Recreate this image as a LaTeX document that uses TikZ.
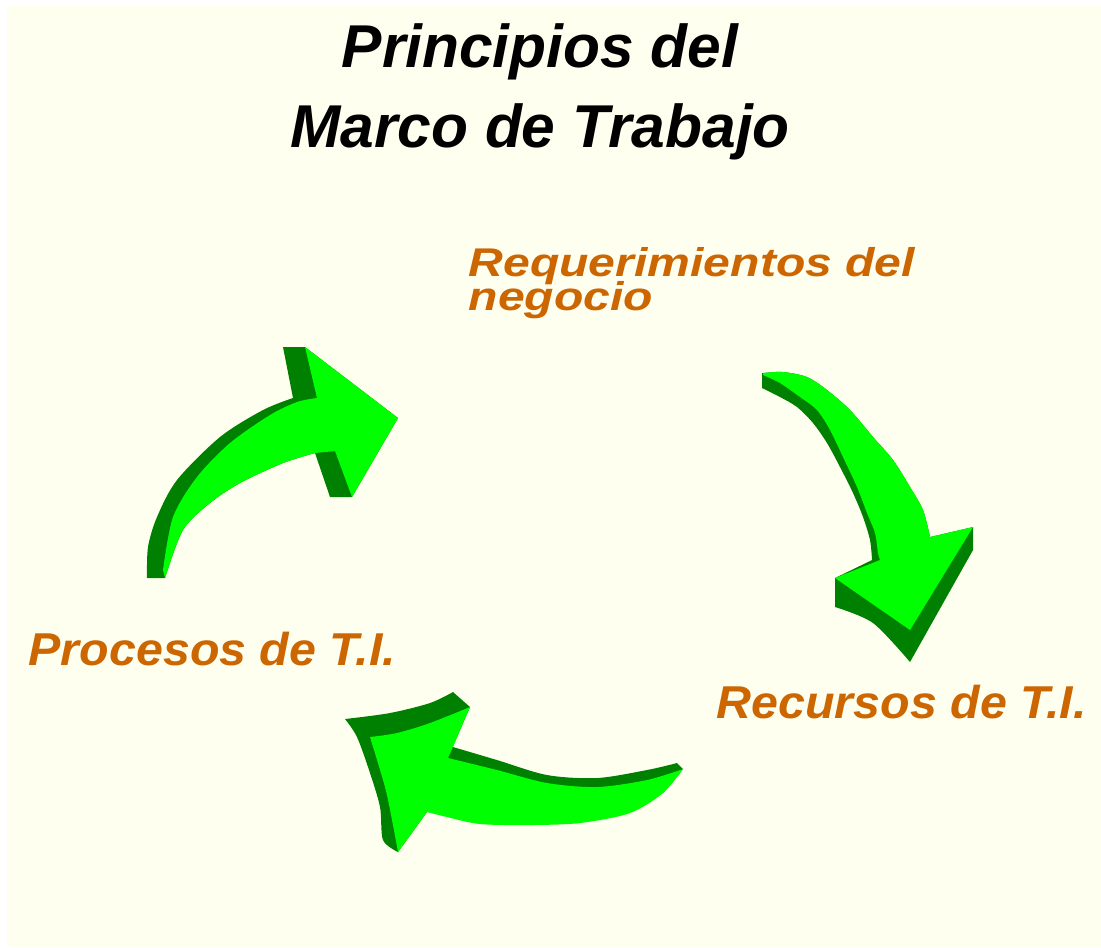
\documentclass[tikz,border=0pt]{standalone}
\usepackage{fontspec}
\setmainfont{Liberation Sans}
\newfontfamily\lblfont{Liberation Sans}[FakeStretch=1.05]
\newfontfamily\reqfont{Liberation Sans}[FakeStretch=1.2]
\usetikzlibrary{positioning}
\definecolor{Lime}{HTML}{00FF00}
\definecolor{Shade}{HTML}{008000}
\definecolor{Orange}{HTML}{CC6600}
\definecolor{Paper}{HTML}{FFFFF0}
\lineskiplimit=-100pt
\begin{document}
\begin{tikzpicture}
[x=0.01cm,y=-0.01cm,
face/.style={fill=Lime},
side/.style={fill=Shade},
ttl/.style={font=\fontsize{17.2}{22.5}\selectfont\bfseries\itshape,inner sep=0pt,align=center},
lbl/.style={font=\lblfont\fontsize{13.1}{16}\selectfont\bfseries\itshape,Orange,inner sep=0pt},
lblreq/.style={font=\reqfont\fontsize{11.4}{9.4}\selectfont\bfseries\itshape,Orange,inner sep=0pt,align=left}
]
\useasboundingbox (0,0) rectangle (1101,947);
%% background
\fill[white] (0,0) rectangle (1101,947);
\fill[Paper] (7,6) rectangle (1101,947);
%% title
\node[ttl,anchor=base] (title) at (540,147) {Principios del\\Marco de Trabajo};
%% labels
\node[lblreq,anchor=base west] (req) at (468,310) {Requerimientos del\\negocio};
\node[lbl,anchor=base west] (rec) at (716,718) {Recursos de T.I.};
\node[lbl,anchor=base west] (proc) at (28,665) {Procesos de T.I.};
%% arrow up (procesos -> requerimientos)
\fill[side] plot[smooth] coordinates {(147,578) (148,547) (157,517) (177,480) (220,437) (263,410) (293,398)}
 -- (283,347) -- (305,347) -- (398,418) -- (352,497) -- (330,497) -- (315,453)
 -- plot[smooth] coordinates {(315,453) (283,463) (240,483) (210,503) (183,530) (165,578)} -- cycle;
\fill[face] plot[smooth] coordinates {(165,578) (183,530) (210,503) (240,483) (283,463) (315,453)}
 -- (335,451) -- (352,497) -- (398,418) -- (305,347) -- (317,398)
 -- plot[smooth] coordinates {(317,398) (297,402) (270,415) (230,443) (197,477) (173,517) (163,570)} -- cycle;
%% arrow down (requerimientos -> recursos)
\fill[side] (762,373) -- (762,388)
 -- plot[smooth] coordinates {(762,388) (780,397) (797,407) (813,423) (827,443) (840,467) (853,493) (863,517) (870,540) (872,560)}
 -- (835,578) -- (835,607)
 -- plot[smooth] coordinates {(835,607) (873,623) (910,662)} -- (973,550) -- (973,527) -- (930,537)
 -- plot[smooth] coordinates {(930,537) (923,510) (910,487) (893,460) (873,437) (850,410) (827,390) (807,377) (783,372) (763,373)} -- cycle;
\fill[face] plot[smooth] coordinates {(763,373) (783,372) (807,377) (827,390) (850,410) (873,437) (893,460) (910,487) (923,510) (930,537)}
 -- (973,527) -- (910,630) -- (835,578) -- (880,560)
 -- plot[smooth] coordinates {(880,560) (878,553) (875,533) (867,513) (857,487) (843,457) (830,430) (817,410) (800,397) (780,383) (763,375)} -- cycle;
%% arrow left (recursos -> procesos)
\fill[side] plot[smooth] coordinates {(345,719) (390,713) (430,703) (453,692)} -- (470,707) -- (448,758)
 -- plot[smooth] coordinates {(453,747) (497,760) (547,775) (597,778) (647,770) (677,763)}
 -- (683,769) -- (663,793) -- (427,812) -- (398,852)
 -- plot[smooth] coordinates {(398,852) (383,840) (380,807) (370,773) (357,737) (345,719)} -- cycle;
\fill[face] plot[smooth] coordinates {(683,769) (663,793) (630,813) (580,823) (530,825) (480,824) (447,817) (427,812)}
 -- (398,852)
 -- plot[smooth] coordinates {(398,852) (392,820) (385,787) (370,737)}
 -- plot[smooth] coordinates {(370,737) (397,733) (430,723) (470,707)} -- (448,758)
 -- plot[smooth] coordinates {(448,758) (497,770) (547,783) (597,787) (647,780) (683,769)} -- cycle;
\end{tikzpicture}
\end{document}
